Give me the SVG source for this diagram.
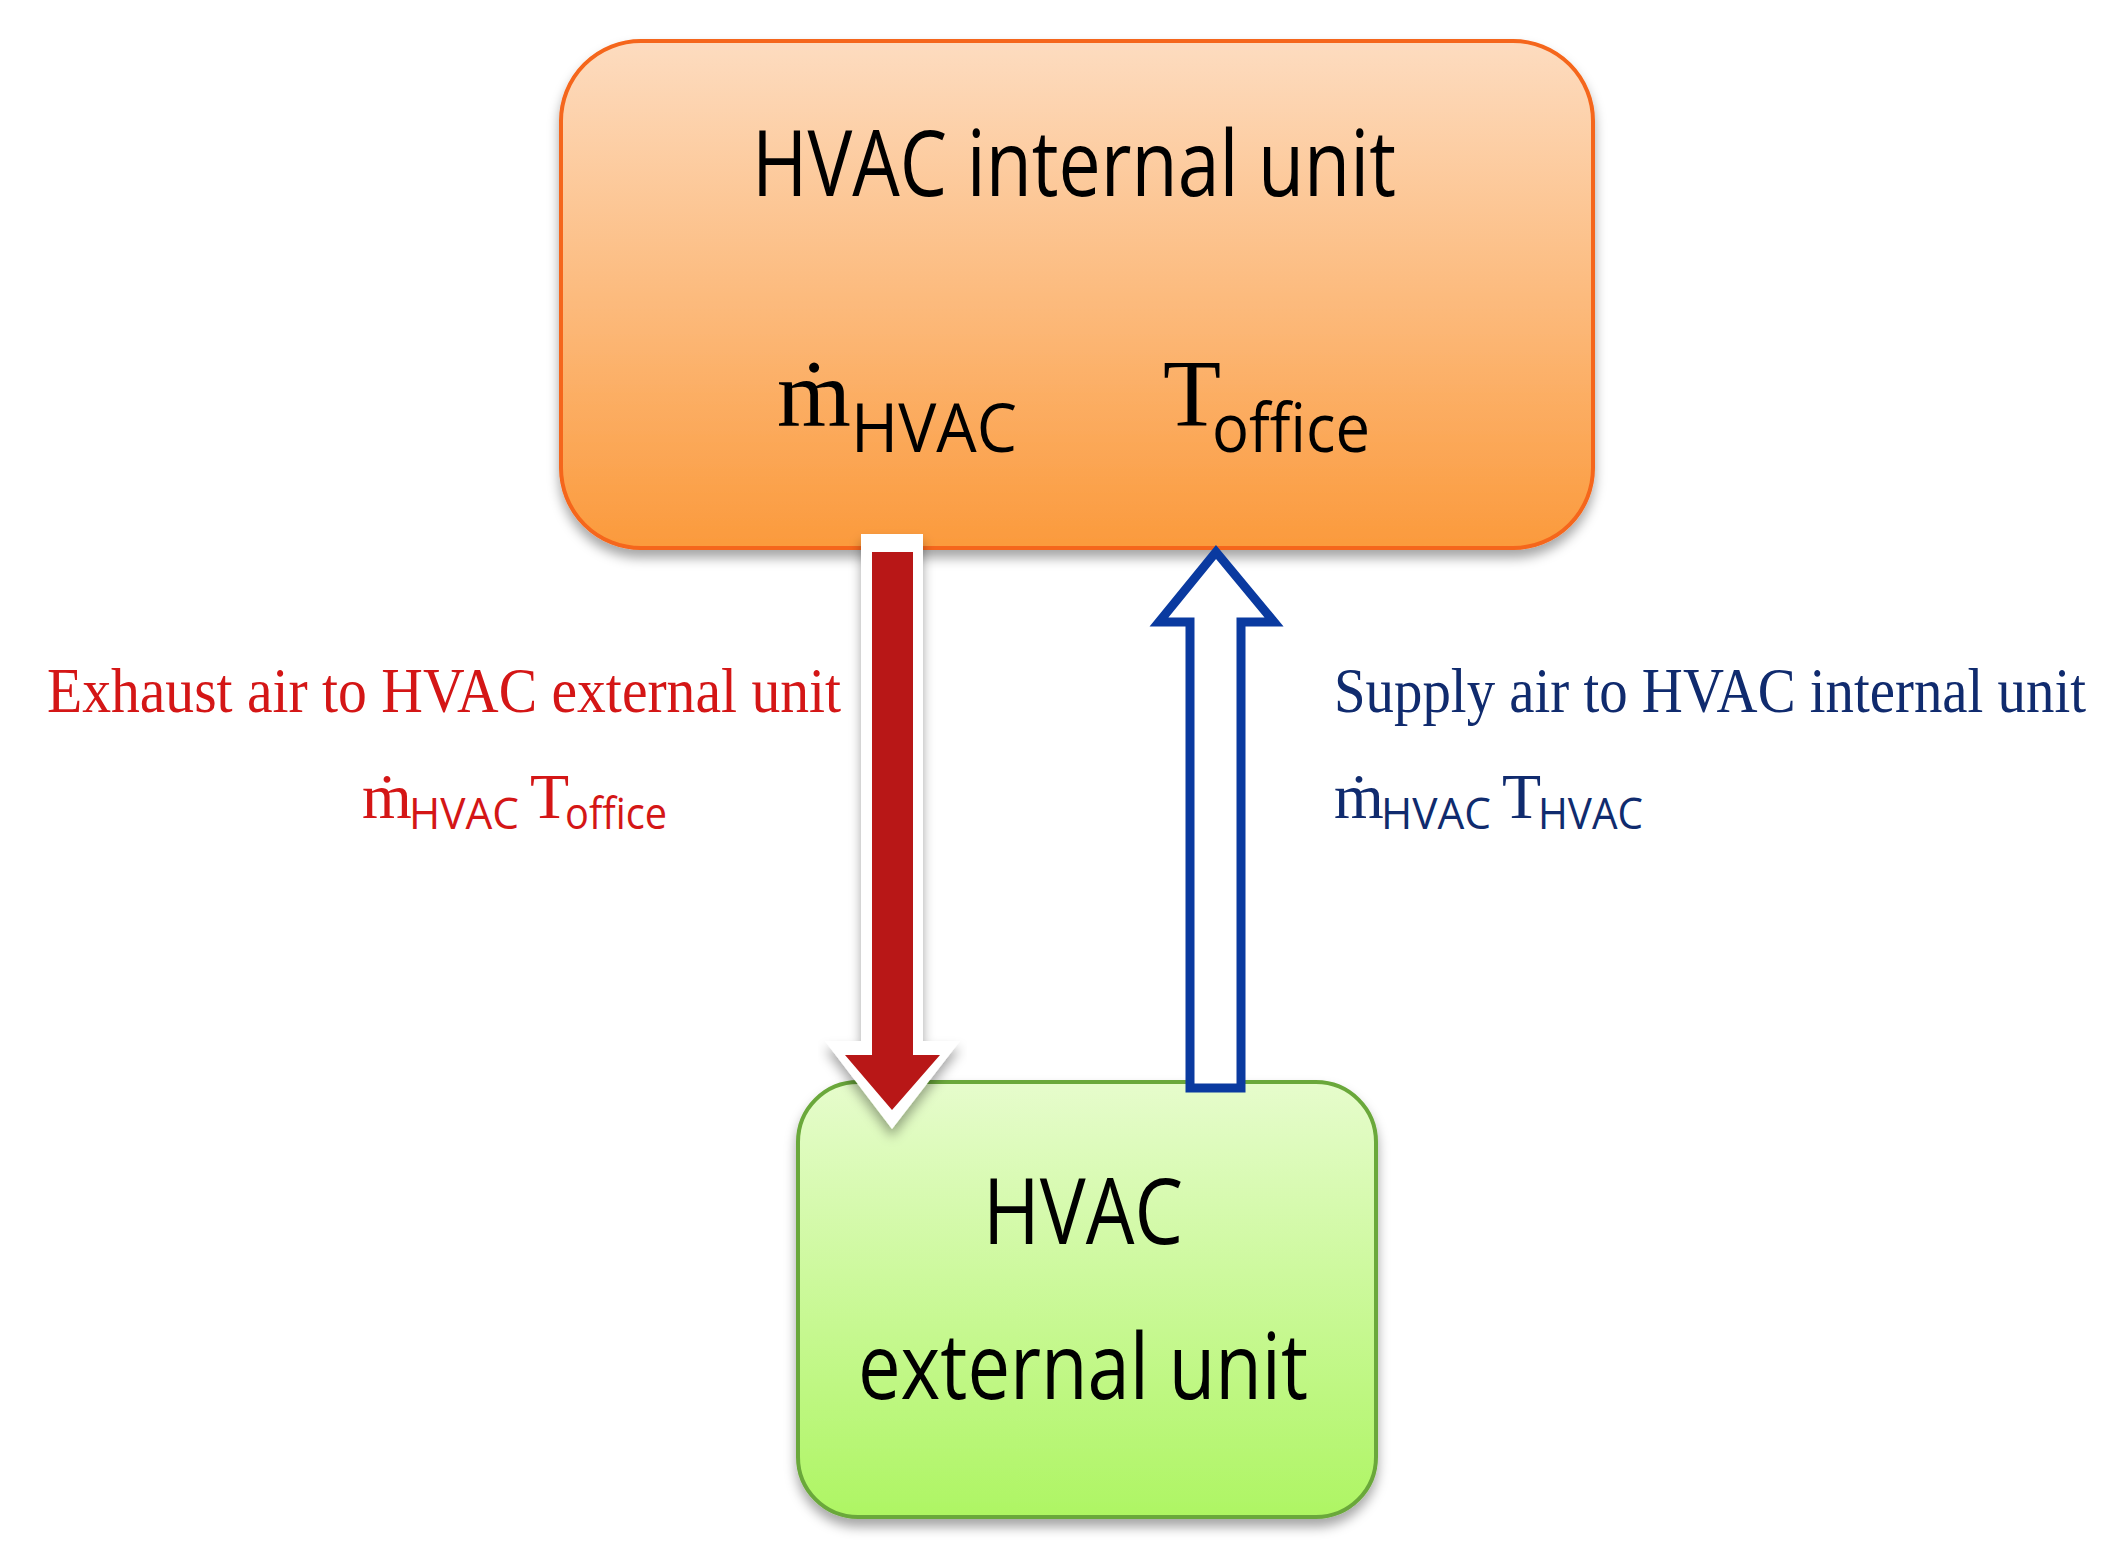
<svg xmlns="http://www.w3.org/2000/svg" width="2117" height="1566" viewBox="0 0 2117 1566">
<defs>
<linearGradient id="og" x1="0" y1="0" x2="0" y2="1"><stop offset="0" stop-color="#fddcc0"/><stop offset="1" stop-color="#fb9a3c"/></linearGradient>
<linearGradient id="gg" x1="0" y1="0" x2="0" y2="1"><stop offset="0" stop-color="#e6fccc"/><stop offset="1" stop-color="#aef563"/></linearGradient>
<filter id="sh" x="-5%" y="-5%" width="110%" height="115%"><feDropShadow dx="0" dy="8" stdDeviation="6" flood-color="#000" flood-opacity="0.35"/></filter>
</defs>
<style>
.cal{font-family:"Open Sans","Liberation Sans",sans-serif;fill:#000}
.ser{font-family:"Liberation Serif",serif}
.sub{font-family:"Open Sans","Liberation Sans",sans-serif}
</style>
<rect width="2117" height="1566" fill="#fff"/>
<g id="internal">
<rect x="561" y="41" width="1032" height="507" rx="80" fill="url(#og)" stroke="#f5661a" stroke-width="4" filter="url(#sh)"/>
<text class="cal" x="752" y="196" font-size="92" textLength="644" lengthAdjust="spacingAndGlyphs">HVAC internal unit</text>
<text class="ser" x="777" y="426" font-size="95">ṁ</text>
<text class="sub" x="851" y="452" font-size="68" textLength="166" lengthAdjust="spacingAndGlyphs">HVAC</text>
<text class="ser" x="1163" y="426" font-size="95">T</text>
<text class="sub" x="1212" y="452" font-size="68" textLength="158" lengthAdjust="spacingAndGlyphs">office</text>
</g>
<g id="external">
<rect x="798" y="1082" width="578" height="435" rx="60" fill="url(#gg)" stroke="#6aa83a" stroke-width="4" filter="url(#sh)"/>
<text class="cal" x="1083" y="1244" font-size="92" text-anchor="middle" textLength="200" lengthAdjust="spacingAndGlyphs">HVAC</text>
<text class="cal" x="1083" y="1399" font-size="92" text-anchor="middle" textLength="450" lengthAdjust="spacingAndGlyphs">external unit</text>
</g>
<g id="connectors">
<path d="M861 534 H923 V1041 H960 L892 1129 L825 1041 H861 Z" fill="#fff" filter="url(#sh)"/>
<path d="M872 552 H913 V1055 H940 L892 1110 L845 1055 H872 Z" fill="#b81717"/>
<path d="M1190 1088 V622 H1159 L1216 552 L1274 622 H1241 V1088 Z" fill="#fff" stroke="#0a3aa0" stroke-width="9"/>
</g>
<g id="labels">
<text class="ser" x="47" y="712" font-size="64" fill="#d41616" textLength="794" lengthAdjust="spacingAndGlyphs">Exhaust air to HVAC external unit</text>
<text class="ser" x="362" y="818" font-size="64" fill="#d41616">ṁ</text>
<text class="sub" x="409" y="829" font-size="44" fill="#d41616" textLength="110" lengthAdjust="spacingAndGlyphs">HVAC</text>
<text class="ser" x="530" y="818" font-size="64" fill="#d41616">T</text>
<text class="sub" x="565" y="829" font-size="44" fill="#d41616" textLength="102" lengthAdjust="spacingAndGlyphs">office</text>
<text class="ser" x="1334" y="712" font-size="64" fill="#102b6e" textLength="752" lengthAdjust="spacingAndGlyphs">Supply air to HVAC internal unit</text>
<text class="ser" x="1334" y="818" font-size="64" fill="#102b6e">ṁ</text>
<text class="sub" x="1381" y="829" font-size="44" fill="#102b6e" textLength="110" lengthAdjust="spacingAndGlyphs">HVAC</text>
<text class="ser" x="1502" y="818" font-size="64" fill="#102b6e">T</text>
<text class="sub" x="1538" y="829" font-size="44" fill="#102b6e" textLength="105" lengthAdjust="spacingAndGlyphs">HVAC</text>
</g>
</svg>
